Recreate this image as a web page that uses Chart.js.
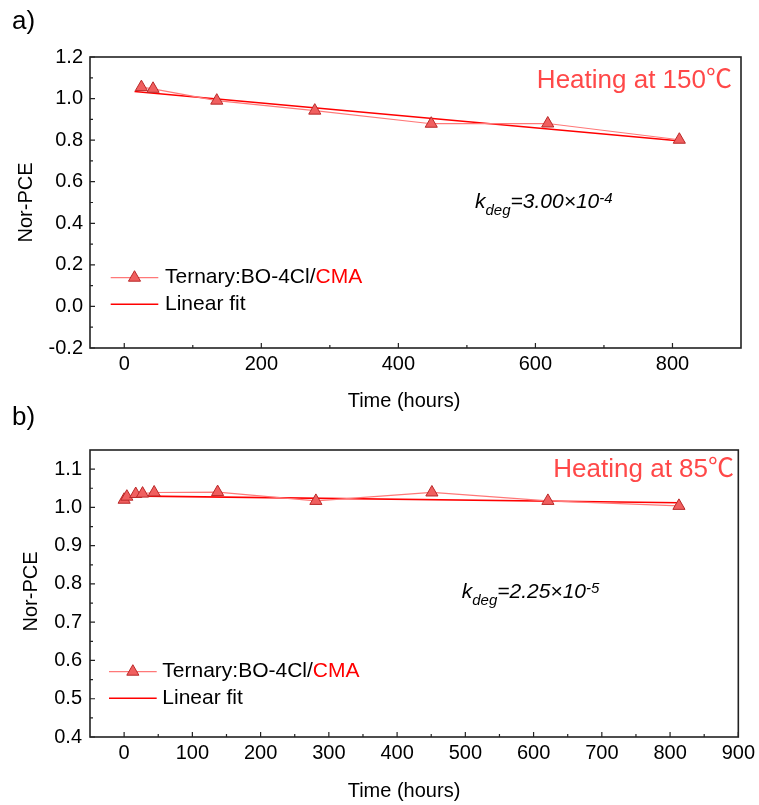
<!DOCTYPE html>
<html><head><meta charset="utf-8">
<script src="https://cdn.jsdelivr.net/npm/chart.js@4.4.1/dist/chart.umd.min.js"></script>
<style>
html,body{margin:0;padding:0;background:#fff;}
#wa{position:absolute;left:0;top:0;width:759px;height:430px;}
#wb{position:absolute;left:0;top:430px;width:759px;height:375px;}
</style>
</head><body>
<div id="wa"><canvas id="ca"></canvas></div>
<div id="wb"><canvas id="cb"></canvas></div>
<script>
// ---- data ----
const seriesName = 'Ternary:BO-4Cl/';
const seriesNameRed = 'CMA';
const fitName = 'Linear fit';

const hoursA = [25, 42, 135, 278, 448, 618, 810];
const pceA   = [1.055, 1.047, 0.990, 0.942, 0.879, 0.880, 0.802];
const fitHoursA = [15, 812];
const fitPceA   = [1.034, 0.796];

const hoursB = [0, 4, 17, 27, 44, 137, 281, 451, 621, 813];
const pceB   = [1.020, 1.028, 1.035, 1.036, 1.039, 1.040, 1.017, 1.039, 1.017, 1.004];
const fitHoursB = [0, 813];
const fitPceB   = [1.030, 1.012];

const xTicksA = [0, 200, 400, 600, 800];
const xMinorA = [100, 300, 500, 700];
const yTicksA = [-0.2, 0.0, 0.2, 0.4, 0.6, 0.8, 1.0, 1.2];
const yMinorA = [-0.1, 0.1, 0.3, 0.5, 0.7, 0.9, 1.1];

const xTicksB = [0, 100, 200, 300, 400, 500, 600, 700, 800, 900];
const xMinorB = [50, 150, 250, 350, 450, 550, 650, 750, 850];
const yTicksB = [0.4, 0.5, 0.6, 0.7, 0.8, 0.9, 1.0, 1.1];
const yMinorB = [0.45, 0.55, 0.65, 0.75, 0.85, 0.95, 1.05];

// ---- styling ----
const FONT = "'Liberation Sans', Arial, 'Noto Sans CJK SC', sans-serif";
const DATA_LINE = 'rgb(255,120,120)';
const MARK_FILL = 'rgb(240,95,95)';
const MARK_EDGE = 'rgb(185,40,40)';
const FIT_LINE = 'rgb(255,0,0)';
const HEAT_COLOR = 'rgb(255,72,72)';

function pts(xs, ys){ return xs.map((x,i)=>({x:x, y:ys[i]})); }

function drawRich(ctx, x, y, parts){
  let cx = x;
  parts.forEach(p=>{
    ctx.font = p.font;
    ctx.fillStyle = p.color || '#000';
    ctx.fillText(p.text, cx, y + (p.dy||0));
    cx += ctx.measureText(p.text).width;
  });
}

function decor(cfg){
  return {
    id: 'decor',
    afterDraw(chart){
      const ctx = chart.ctx;
      const {left, right, top, bottom} = chart.chartArea;
      const xs = chart.scales.x, ys = chart.scales.y;
      ctx.save();
      // inward ticks
      ctx.strokeStyle = '#222';
      ctx.lineWidth = 1.2;
      ctx.beginPath();
      cfg.xMajor.forEach(v=>{const p=xs.getPixelForValue(v); ctx.moveTo(p,bottom); ctx.lineTo(p,bottom-5);});
      cfg.xMinor.forEach(v=>{const p=xs.getPixelForValue(v); ctx.moveTo(p,bottom); ctx.lineTo(p,bottom-3);});
      cfg.yMajor.forEach(v=>{const p=ys.getPixelForValue(v); ctx.moveTo(left,p); ctx.lineTo(left+5,p);});
      cfg.yMinor.forEach(v=>{const p=ys.getPixelForValue(v); ctx.moveTo(left,p); ctx.lineTo(left+3,p);});
      ctx.stroke();
      // frame
      ctx.lineWidth = 1.6;
      ctx.strokeRect(left, top, right-left, bottom-top);

      // axis titles
      ctx.fillStyle = '#000';
      ctx.font = '20px ' + FONT;
      ctx.textAlign = 'center';
      ctx.textBaseline = 'middle';
      ctx.fillText('Time (hours)', cfg.xTitle[0], cfg.xTitle[1]);
      ctx.save();
      ctx.translate(cfg.yTitle[0], cfg.yTitle[1]);
      ctx.rotate(-Math.PI/2);
      ctx.fillText('Nor-PCE', 0, 0);
      ctx.restore();

      // heating label
      ctx.textAlign = 'right';
      ctx.textBaseline = 'alphabetic';
      ctx.font = '26px ' + FONT;
      ctx.fillStyle = HEAT_COLOR;
      ctx.fillText(cfg.heat, cfg.heatPos[0], cfg.heatPos[1]);

      // k_deg annotation
      ctx.textAlign = 'left';
      const it = 'italic 21px ' + FONT, its = 'italic 15px ' + FONT;
      drawRich(ctx, cfg.kPos[0], cfg.kPos[1], [
        {text:'k', font:it},
        {text:'deg', font:its, dy:7},
        {text:'=' + cfg.kVal + '\u00d710', font:it},
        {text:cfg.kExp, font:its, dy:-5}
      ]);

      // legend
      const ds = chart.data.datasets;
      const lx0 = cfg.leg.x0, lx1 = cfg.leg.x1;
      ctx.strokeStyle = ds[0].borderColor; ctx.lineWidth = ds[0].borderWidth;
      ctx.beginPath(); ctx.moveTo(lx0, cfg.leg.y1); ctx.lineTo(lx1, cfg.leg.y1); ctx.stroke();
      ctx.fillStyle = ds[0].pointBackgroundColor; ctx.strokeStyle = ds[0].pointBorderColor;
      ctx.lineWidth = ds[0].pointBorderWidth;
      Chart.helpers.drawPoint(ctx, {pointStyle:'triangle', radius:ds[0].pointRadius, borderWidth:ds[0].pointBorderWidth, rotation:0}, (lx0+lx1)/2, cfg.leg.y1);
      ctx.strokeStyle = ds[1].borderColor; ctx.lineWidth = ds[1].borderWidth;
      ctx.beginPath(); ctx.moveTo(lx0, cfg.leg.y2); ctx.lineTo(lx1, cfg.leg.y2); ctx.stroke();
      ctx.textBaseline = 'middle';
      const lf = '21px ' + FONT;
      drawRich(ctx, cfg.leg.tx, cfg.leg.y1, [
        {text:seriesName, font:lf, color:'#000'},
        {text:seriesNameRed, font:lf, color:'#ff0000'}
      ]);
      drawRich(ctx, cfg.leg.tx, cfg.leg.y2, [{text:fitName, font:lf, color:'#000'}]);

      // panel labels
      if (cfg.panels){
        ctx.textBaseline = 'alphabetic';
        ctx.fillStyle = '#000';
        ctx.font = '26px ' + FONT;
        cfg.panels.forEach(p=>ctx.fillText(p[0], p[1], p[2]));
      }
      ctx.restore();
    }
  };
}

function makeChart(id, d){
  return new Chart(document.getElementById(id), {
    type: 'scatter',
    data: {
      datasets: [
        {
          label: seriesName + seriesNameRed,
          data: pts(d.hx, d.hy),
          showLine: true,
          borderColor: DATA_LINE,
          borderWidth: 1.2,
          pointStyle: 'triangle',
          pointRadius: 7,
          pointBackgroundColor: MARK_FILL,
          pointBorderColor: MARK_EDGE,
          pointBorderWidth: 1,
          tension: 0
        },
        {
          label: fitName,
          data: pts(d.fx, d.fy),
          showLine: true,
          borderColor: FIT_LINE,
          borderWidth: 1.6,
          pointRadius: 0,
          tension: 0
        }
      ]
    },
    options: {
      animation: false,
      responsive: true,
      maintainAspectRatio: false,
      events: [],
      layout: {padding: {left:0, right:18, top:d.padTop, bottom:0}},
      plugins: {legend:{display:false}, tooltip:{enabled:false}},
      scales: {
        x: {
          type:'linear', min:-50, max:900,
          afterBuildTicks: s=>{ s.ticks = d.xTicks.map(v=>({value:v})); },
          afterFit: s=>{ s.height = d.xH; },
          grid:{display:false, drawTicks:false},
          border:{display:false},
          ticks:{padding:4, color:'#000', font:{family:FONT, size:20}, maxRotation:0, autoSkip:false,
                 callback: v=>String(v)}
        },
        y: {
          type:'linear', min:d.yMin, max:d.yMax,
          afterBuildTicks: s=>{ s.ticks = d.yTicks.map(v=>({value:v})); },
          afterFit: s=>{ s.width = 90; },
          grid:{display:false, drawTicks:false},
          border:{display:false},
          ticks:{padding:d.yPad, color:'#000', font:{family:FONT, size:20}, autoSkip:false,
                 callback: v=>Number(v).toFixed(1)}
        }
      }
    },
    plugins: [decor(d.decor)]
  });
}

makeChart('ca', {
  hx:hoursA, hy:pceA, fx:fitHoursA, fy:fitPceA,
  xTicks:xTicksA, yTicks:yTicksA, yMin:-0.2, yMax:1.2,
  padTop:57, xH:82, yPad:7,
  decor:{
    xMajor:xTicksA, xMinor:xMinorA, yMajor:yTicksA, yMinor:yMinorA,
    xTitle:[404, 401.7], yTitle:[26, 202.5],
    heat:'Heating at 150\u2103', heatPos:[732, 88.3],
    kPos:[475, 208.3], kVal:'3.00', kExp:'-4',
    leg:{x0:110.7, x1:158.3, y1:277.7, y2:304.3, tx:165},
    panels:[['a)', 12, 28.5], ['b)', 12, 425]]
  }
});

makeChart('cb', {
  hx:hoursB, hy:pceB, fx:fitHoursB, fy:fitPceB,
  xTicks:xTicksB, yTicks:yTicksB, yMin:0.4, yMax:1.15,
  padTop:16, xH:68, yPad:8,
  decor:{
    xMajor:xTicksB, xMinor:xMinorB, yMajor:yTicksB, yMinor:yMinorB,
    xTitle:[404, 361.7], yTitle:[31, 161.5],
    heat:'Heating at 85\u2103', heatPos:[734, 46.7],
    kPos:[461.7, 168.3], kVal:'2.25', kExp:'-5',
    leg:{x0:109, x1:156.7, y1:241.7, y2:268.3, tx:162.3},
    panels:null
  }
});
</script>
</body></html>
